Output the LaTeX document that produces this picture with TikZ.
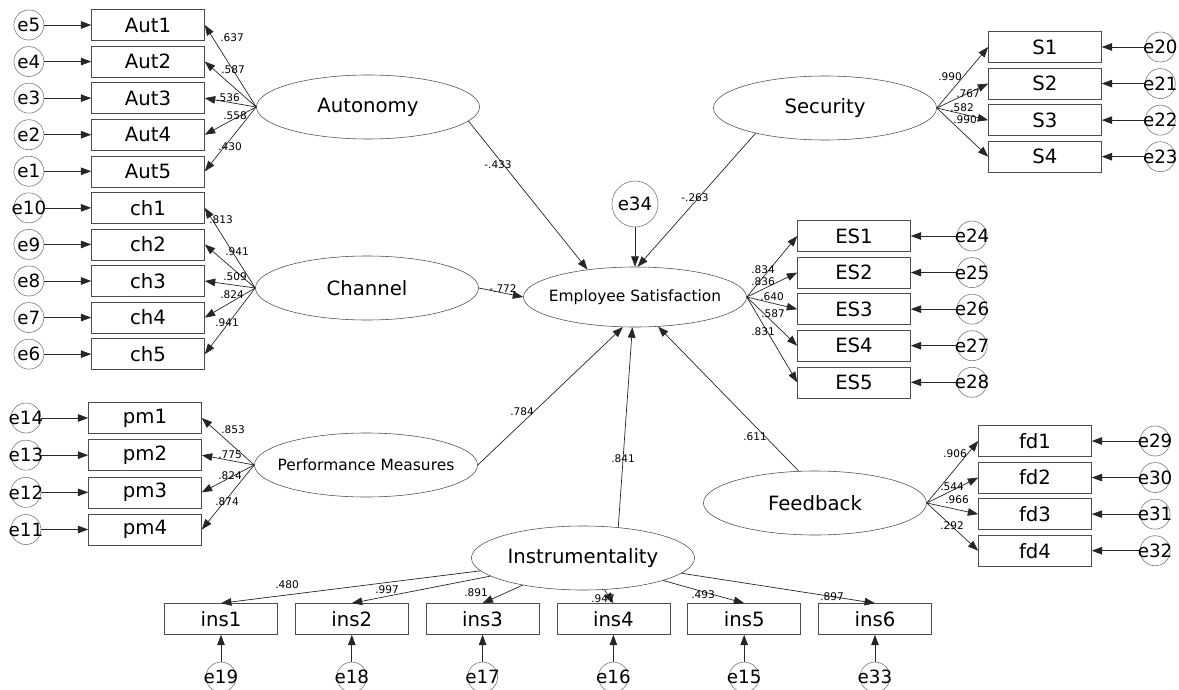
\documentclass[tikz,border=0pt]{standalone}
\usepackage{fontspec}
\setmainfont{DejaVu Sans}
\usepackage{tikz}
\usetikzlibrary{shapes.geometric, arrows.meta, positioning}

\begin{document}
\begin{tikzpicture}[
    x=0.025cm, y=-0.025cm,
    node distance=0.125cm,
    item/.style={rectangle, draw=black!70, minimum width=2.825cm, minimum height=0.775cm, inner sep=0pt, font=\fontsize{14}{16}\selectfont},
    latent/.style={ellipse, draw=black!70, minimum width=5.575cm, minimum height=1.6cm, inner sep=0pt, font=\fontsize{14}{16}\selectfont},
    latsmall/.style={latent, inner xsep=-10pt, minimum height=1.5cm, font=\fontsize{11}{13}\selectfont},
    err/.style={circle, draw=black!55, minimum size=0.75cm, inner sep=0pt, label={[font=\fontsize{13}{15}\selectfont]center:#1}},
    coef/.style={font=\fontsize{7.5}{9}\selectfont, inner sep=0pt},
    arrow/.style={-{Triangle[length=2.6mm, width=1.9mm]}, draw=black!85, line width=0.5pt}
]
\useasboundingbox (0,0) rectangle (1179,690);

% latent variables
\node[latent] (aut) at (368,107) {Autonomy};
\node[latent] (chn) at (367,288) {Channel};
\node[latsmall, minimum height=1.6cm] (pm) at (366,465) {Performance Measures};
\node[latsmall] (es) at (635,297) {Employee Satisfaction};
\node[latent] (sec) at (825,108) {Security};
\node[latent] (fdb) at (815,503) {Feedback};
\node[latent] (instr) at (583,558) {Instrumentality};
\node[err=e34, minimum size=1.15cm] (e34) at (635,204) {};

% left indicators
\node[item] (aut1) at (148,25) {Aut1};
\node[item, below=of aut1] (aut2) {Aut2};
\node[item, below=of aut2] (aut3) {Aut3};
\node[item, below=of aut3] (aut4) {Aut4};
\node[item, below=of aut4] (aut5) {Aut5};
\node[item, below=of aut5] (ch1) {ch1};
\node[item, below=of ch1] (ch2) {ch2};
\node[item, below=of ch2] (ch3) {ch3};
\node[item, below=of ch3] (ch4) {ch4};
\node[item, below=of ch4] (ch5) {ch5};
\node[item] (pm1) at (145,418) {pm1};
\node[item, below=0.14cm of pm1] (pm2) {pm2};
\node[item, below=0.14cm of pm2] (pm3) {pm3};
\node[item, below=0.14cm of pm3] (pm4) {pm4};

\node[err=e5, left=1.175cm of aut1] (e5) {};
\node[err=e4, left=1.175cm of aut2] (e4) {};
\node[err=e3, left=1.175cm of aut3] (e3) {};
\node[err=e2, left=1.175cm of aut4] (e2) {};
\node[err=e1, left=1.175cm of aut5] (e1) {};
\node[err=e10, left=1.175cm of ch1] (e10) {};
\node[err=e9, left=1.175cm of ch2] (e9) {};
\node[err=e8, left=1.175cm of ch3] (e8) {};
\node[err=e7, left=1.175cm of ch4] (e7) {};
\node[err=e6, left=1.175cm of ch5] (e6) {};
\node[err=e14, left=1.175cm of pm1] (e14) {};
\node[err=e13, left=1.175cm of pm2] (e13) {};
\node[err=e12, left=1.175cm of pm3] (e12) {};
\node[err=e11, left=1.175cm of pm4] (e11) {};

% right indicators
\node[item] (s1) at (1045,47) {S1};
\node[item, below=of s1] (s2) {S2};
\node[item, below=of s2] (s3) {S3};
\node[item, below=of s3] (s4) {S4};
\node[item] (es1) at (854,236) {ES1};
\node[item, below=of es1] (es2) {ES2};
\node[item, below=of es2] (es3) {ES3};
\node[item, below=of es3] (es4) {ES4};
\node[item, below=of es4] (es5) {ES5};
\node[item] (fd1) at (1035,441) {fd1};
\node[item, below=of fd1] (fd2) {fd2};
\node[item, below=of fd2] (fd3) {fd3};
\node[item, below=of fd3] (fd4) {fd4};

\node[err=e20, right=1.08cm of s1] (e20) {};
\node[err=e21, right=1.08cm of s2] (e21) {};
\node[err=e22, right=1.08cm of s3] (e22) {};
\node[err=e23, right=1.08cm of s4] (e23) {};
\node[err=e24, right=1.15cm of es1] (e24) {};
\node[err=e25, right=1.15cm of es2] (e25) {};
\node[err=e26, right=1.15cm of es3] (e26) {};
\node[err=e27, right=1.15cm of es4] (e27) {};
\node[err=e28, right=1.15cm of es5] (e28) {};
\node[err=e29, right=1.2cm of fd1] (e29) {};
\node[err=e30, right=1.2cm of fd2] (e30) {};
\node[err=e31, right=1.2cm of fd3] (e31) {};
\node[err=e32, right=1.2cm of fd4] (e32) {};

% bottom indicators
\node[item] (ins1) at (221,619) {ins1};
\node[item, right=0.43cm of ins1] (ins2) {ins2};
\node[item, right=0.43cm of ins2] (ins3) {ins3};
\node[item, right=0.43cm of ins3] (ins4) {ins4};
\node[item, right=0.43cm of ins4] (ins5) {ins5};
\node[item, right=0.43cm of ins5] (ins6) {ins6};

\node[err=e19, below=0.675cm of ins1] (e19) {};
\node[err=e18, below=0.675cm of ins2] (e18) {};
\node[err=e17, below=0.675cm of ins3] (e17) {};
\node[err=e16, below=0.675cm of ins4] (e16) {};
\node[err=e15, below=0.675cm of ins5] (e15) {};
\node[err=e33, below=0.675cm of ins6] (e33) {};

% structural paths
\draw[arrow] (aut.-8) -- (es.150);
\draw[arrow] (sec.200) -- (es.85);
\draw[arrow] (e34) -- (es.north);
\draw[arrow] (chn.east) -- (es.west);
\draw[arrow] (pm.east) -- (es.248);
\draw[arrow] (instr.41) -- (es.265);
\draw[arrow] (fdb.117) -- (es.-52);

% loadings
\draw[arrow] (aut.west) -- (aut1.east);
\draw[arrow] (aut.west) -- (aut2.east);
\draw[arrow] (aut.west) -- (aut3.east);
\draw[arrow] (aut.west) -- (aut4.east);
\draw[arrow] (aut.west) -- (aut5.east);
\draw[arrow] (chn.west) -- (ch1.east);
\draw[arrow] (chn.west) -- (ch2.east);
\draw[arrow] (chn.west) -- (ch3.east);
\draw[arrow] (chn.west) -- (ch4.east);
\draw[arrow] (chn.west) -- (ch5.east);
\draw[arrow] (pm.west) -- (pm1.east);
\draw[arrow] (pm.west) -- (pm2.east);
\draw[arrow] (pm.west) -- (pm3.east);
\draw[arrow] (pm.west) -- (pm4.east);
\draw[arrow] (sec.east) -- (s1.west);
\draw[arrow] (sec.east) -- (s2.west);
\draw[arrow] (sec.east) -- (s3.west);
\draw[arrow] (sec.east) -- (s4.west);
\draw[arrow] (es.east) -- (es1.west);
\draw[arrow] (es.east) -- (es2.west);
\draw[arrow] (es.east) -- (es3.west);
\draw[arrow] (es.east) -- (es4.west);
\draw[arrow] (es.east) -- (es5.west);
\draw[arrow] (fdb.east) -- (fd1.west);
\draw[arrow] (fdb.east) -- (fd2.west);
\draw[arrow] (fdb.east) -- (fd3.west);
\draw[arrow] (fdb.east) -- (fd4.west);
\draw[arrow] (instr) -- (ins1.north);
\draw[arrow] (instr) -- (ins2.north);
\draw[arrow] (instr) -- (ins3.north);
\draw[arrow] (instr) -- (ins4.north);
\draw[arrow] (instr) -- (ins5.north);
\draw[arrow] (instr) -- (ins6.north);

% error terms
\draw[arrow] (e5.east) -- (aut1.west);
\draw[arrow] (e4.east) -- (aut2.west);
\draw[arrow] (e3.east) -- (aut3.west);
\draw[arrow] (e2.east) -- (aut4.west);
\draw[arrow] (e1.east) -- (aut5.west);
\draw[arrow] (e10.east) -- (ch1.west);
\draw[arrow] (e9.east) -- (ch2.west);
\draw[arrow] (e8.east) -- (ch3.west);
\draw[arrow] (e7.east) -- (ch4.west);
\draw[arrow] (e6.east) -- (ch5.west);
\draw[arrow] (e14.east) -- (pm1.west);
\draw[arrow] (e13.east) -- (pm2.west);
\draw[arrow] (e12.east) -- (pm3.west);
\draw[arrow] (e11.east) -- (pm4.west);
\draw[arrow] (e20.west) -- (s1.east);
\draw[arrow] (e21.west) -- (s2.east);
\draw[arrow] (e22.west) -- (s3.east);
\draw[arrow] (e23.west) -- (s4.east);
\draw[arrow] (e24.west) -- (es1.east);
\draw[arrow] (e25.west) -- (es2.east);
\draw[arrow] (e26.west) -- (es3.east);
\draw[arrow] (e27.west) -- (es4.east);
\draw[arrow] (e28.west) -- (es5.east);
\draw[arrow] (e29.west) -- (fd1.east);
\draw[arrow] (e30.west) -- (fd2.east);
\draw[arrow] (e31.west) -- (fd3.east);
\draw[arrow] (e32.west) -- (fd4.east);
\draw[arrow] (e19.north) -- (ins1.south);
\draw[arrow] (e18.north) -- (ins2.south);
\draw[arrow] (e17.north) -- (ins3.south);
\draw[arrow] (e16.north) -- (ins4.south);
\draw[arrow] (e15.north) -- (ins5.south);
\draw[arrow] (e33.north) -- (ins6.south);

% coefficients
\node[coef] (c-aut-es) at (498,165) {-.433};
\node[coef] (c-sec-es) at (695,198) {-.263};
\node[coef] (c-chn-es) at (503,289) {-.772};
\node[coef] (c-pm-es) at (522,412) {.784};
\node[coef] (c-instr-es) at (623,459) {.841};
\node[coef] (c-fdb-es) at (755,437) {.611};

\node[coef] (c-aut1) at (232,38) {.637};
\node[coef] (c-aut2) at (233,70) {.587};
\node[coef] (c-aut3) at (228,98) {.536};
\node[coef] (c-aut4) at (235,116) {.558};
\node[coef] (c-aut5) at (230,147) {.430};
\node[coef] (c-ch1) at (221,220) {.813};
\node[coef] (c-ch2) at (237,252) {.941};
\node[coef] (c-ch3) at (235,277) {.509};
\node[coef] (c-ch4) at (232,295) {.824};
\node[coef] (c-ch5) at (227,323) {.941};
\node[coef] (c-pm1) at (233,430) {.853};
\node[coef] (c-pm2) at (230,455) {.775};
\node[coef] (c-pm3) at (230,476) {.824};
\node[coef] (c-pm4) at (227,502) {.874};
\node[coef] (c-s1) at (950,77) {.990};
\node[coef] (c-s2) at (968,94) {.767};
\node[coef] (c-s3) at (962,108) {.582};
\node[coef] (c-s4) at (965,120) {.990};
\node[coef] (c-es1) at (763,270) {.834};
\node[coef] (c-es2) at (763,282) {.836};
\node[coef] (c-es3) at (772,297) {.640};
\node[coef] (c-es4) at (773,314) {.587};
\node[coef] (c-es5) at (763,332) {.831};
\node[coef] (c-fd1) at (955,454) {.906};
\node[coef] (c-fd2) at (952,487) {.544};
\node[coef] (c-fd3) at (957,500) {.966};
\node[coef] (c-fd4) at (952,526) {.292};
\node[coef] (c-ins1) at (287,585) {.480};
\node[coef] (c-ins2) at (387,590) {.997};
\node[coef] (c-ins3) at (476,593) {.891};
\node[coef] (c-ins4) at (603,599) {.947};
\node[coef] (c-ins5) at (703,595) {.493};
\node[coef] (c-ins6) at (832,597) {.897};

\end{tikzpicture}
\end{document}
